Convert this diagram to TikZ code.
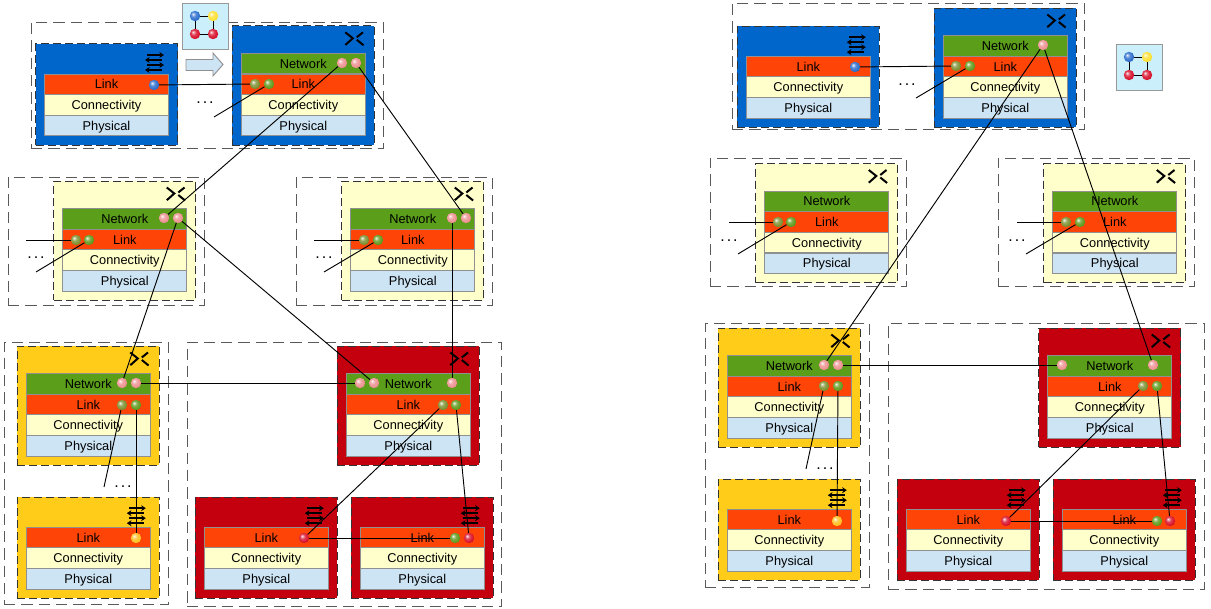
\documentclass[tikz,border=0pt]{standalone}
\usepackage{fontspec}
\setmainfont{Liberation Sans}
\usetikzlibrary{arrows.meta}
\definecolor{cblue}{HTML}{0066CC}
\definecolor{cpale}{HTML}{FFFFCC}
\definecolor{cyel}{HTML}{FFCC1A}
\definecolor{cred}{HTML}{C4000E}
\definecolor{cnet}{HTML}{5A9E1A}
\definecolor{clink}{HTML}{FF4408}
\definecolor{cphy}{HTML}{CDE4F4}
\definecolor{cedge}{HTML}{909090}
\definecolor{bpink}{HTML}{EE9090}
\definecolor{bgreen}{HTML}{5F9A1C}
\definecolor{bolive}{HTML}{7C9030}
\definecolor{bblue}{HTML}{2A6CCC}
\definecolor{bred}{HTML}{D8102A}
\definecolor{bor}{HTML}{FFC020}
\definecolor{byel}{HTML}{FFE030}
\colorlet{softc}{red}
\pgfdeclareradialshading[softc]{softball}{\pgfqpoint{-10bp}{10bp}}{color(0bp)=(softc!10!white); color(12bp)=(softc!80!white); color(25bp)=(softc); color(38bp)=(softc!75!black); color(50bp)=(softc!60!black)}
\tikzset{
  every node/.style={outer sep=0pt},
  group/.style={draw=black!65,dash pattern=on 8.5pt off 4.5pt,line width=0.7pt},
  block/.style={draw=black!80,dash pattern=on 6pt off 3pt,line width=0.75pt,fill=#1},
  layer/.style={draw=cedge,line width=0.7pt,fill=#1,minimum width=93pt,minimum height=15.4pt,inner sep=0pt,font=\fontsize{9.6}{10}\selectfont,text height=9pt,text depth=2pt,text=black,anchor=north west},
  ball/.style={circle,minimum size=7.8pt,inner sep=0pt,/utils/exec={\colorlet{softc}{#1}},shading=softball},
  wire/.style={draw=black,line width=0.7pt},
  iconline/.style={draw=black,line width=1.5pt},
  swline/.style={draw=black,line width=1.2pt},
  dots/.style={font=\fontsize{12}{12}\selectfont,inner sep=0pt},
}
% router block: name, left, top, colour (block 142x119)
\newcommand{\routerblk}[4]{%
  \node[block=#4,draw,minimum width=106.5pt,minimum height=89.3pt,inner sep=0pt,anchor=north west] (#1) at (#2,#3) {};
  \node[layer=cnet] (#1net) at ({#2+9},{#3+27.3}) {Network};
  \node[layer=clink] (#1link) at ({#2+9},{#3+48}) {Link};
  \node[layer=cpale] (#1con) at ({#2+9},{#3+68.7}) {Connectivity};
  \node[layer=cphy] (#1phy) at ({#2+9},{#3+89.3}) {Physical};
  \begin{scope}[shift={({#2+122},{#3+12.3})}]
    \draw[iconline] (-9,-6) -- (-1.5,0) -- (-9,6.7) (8.7,-6) -- (2.5,-1) (2.5,1.5) -- (9.3,7);
  \end{scope}}
% switch block (block 142x101)
\newcommand{\switchblk}[4]{%
  \node[block=#4,draw,minimum width=106.5pt,minimum height=75.8pt,inner sep=0pt,anchor=north west] (#1) at (#2,#3) {};
  \node[layer=clink] (#1link) at ({#2+9},{#3+30}) {Link};
  \node[layer=cpale] (#1con) at ({#2+9},{#3+50.7}) {Connectivity};
  \node[layer=cphy] (#1phy) at ({#2+9},{#3+71.3}) {Physical};
  \begin{scope}[shift={({#2+119.5},{#3+18.5})}]
    \draw[swline,-{Stealth[length=3.5pt,width=4.5pt]}] (-8,-7.5) -- (9,-7.5);
    \draw[swline,{Stealth[length=3.5pt,width=4.5pt]}-] (-10,-2.5) -- (7,-2.5);
    \draw[swline,-{Stealth[length=3.5pt,width=4.5pt]}] (-8,2.5) -- (9,2.5);
    \draw[swline,{Stealth[length=3.5pt,width=4.5pt]}-] (-10,7.5) -- (7,7.5);
  \end{scope}}
% topology icon
\newcommand{\topoicon}[3]{%
  \node[draw=black!40,line width=0.7pt,fill=cyan!20,minimum size=34.5pt,inner sep=0pt,anchor=north west] (#1) at (#2,#3) {};
  \coordinate (#1pa) at ({#2+13},{#3+13});
  \coordinate (#1pb) at ({#2+31},{#3+13});
  \coordinate (#1pc) at ({#2+13},{#3+31});
  \coordinate (#1pd) at ({#2+31},{#3+31});
  \draw[wire] (#1pa) -- (#1pb) -- (#1pd) -- (#1pc) -- (#1pa);
  \node[ball=bblue] (#1a) at (#1pa) {};
  \node[ball=byel] (#1b) at (#1pb) {};
  \node[ball=bred] (#1c) at (#1pc) {};
  \node[ball=bred] (#1d) at (#1pd) {};}
\begin{document}
\begin{tikzpicture}[x=0.75pt,y=-0.75pt]
\useasboundingbox (0,0) rectangle (1211,609);
% groups, left
\node[group,draw,minimum width=264pt,minimum height=95.2pt,anchor=north west,inner sep=0pt] (g1) at (31,22) {};
\node[group,draw,minimum width=147pt,minimum height=96pt,anchor=north west,inner sep=0pt] (g2) at (8,177) {};
\node[group,draw,minimum width=147pt,minimum height=96pt,anchor=north west,inner sep=0pt] (g3) at (296,177) {};
\node[group,draw,minimum width=123pt,minimum height=197.2pt,anchor=north west,inner sep=0pt] (g4) at (4,342) {};
\node[group,draw,minimum width=236.2pt,minimum height=198.7pt,anchor=north west,inner sep=0pt] (g5) at (187,342) {};
% groups, right
\node[group,draw,minimum width=264pt,minimum height=95.2pt,anchor=north west,inner sep=0pt] (h1) at (732,3) {};
\node[group,draw,minimum width=147pt,minimum height=96.7pt,anchor=north west,inner sep=0pt] (h2) at (710,158) {};
\node[group,draw,minimum width=147pt,minimum height=96.7pt,anchor=north west,inner sep=0pt] (h3) at (998,158) {};
\node[group,draw,minimum width=123pt,minimum height=198pt,anchor=north west,inner sep=0pt] (h4) at (705,323) {};
\node[group,draw,minimum width=237pt,minimum height=199.5pt,anchor=north west,inner sep=0pt] (h5) at (888,323) {};
% blocks, left
\switchblk{a}{35.5}{44}{cblue}
\routerblk{b}{232.3}{26}{cblue}
\routerblk{c}{53.8}{181.2}{cpale}
\routerblk{d}{341.8}{181.2}{cpale}
\routerblk{e}{17.3}{346.2}{cyel}
\switchblk{f}{17.3}{497.2}{cyel}
\routerblk{g}{337.3}{346.2}{cred}
\switchblk{h}{195.3}{497.2}{cred}
\switchblk{i}{351.3}{497.2}{cred}
% blocks, right
\switchblk{A}{737.3}{26.2}{cblue}
\routerblk{B}{934.3}{8.2}{cblue}
\routerblk{C}{755.8}{163.7}{cpale}
\routerblk{D}{1043.8}{163.7}{cpale}
\routerblk{E}{718.3}{328.2}{cyel}
\switchblk{F}{718.3}{479.2}{cyel}
\routerblk{G}{1038.8}{328.2}{cred}
\switchblk{H}{897.3}{479.2}{cred}
\switchblk{I}{1053.3}{479.2}{cred}
% icons and arrow
\topoicon{ti}{182}{3}
\topoicon{tj}{1116}{44}
\draw[draw=cedge,fill=cphy,line width=0.7pt] (186,59.5) -- (213,59.5) -- (213,53) -- (223,64.5) -- (213,76) -- (213,70.5) -- (186,70.5) -- cycle;
% balls
\foreach \n/\x/\y/\c in {a1/154/85/bblue,b1/342/63/bpink,b2/356/63/bpink,b3/255/84/bolive,b4/269/84/bgreen,
 c1/164/218/bpink,c2/178/218/bpink,c3/76/240/bolive,c4/89/240/bgreen,
 d1/452/218/bpink,d2/466/218/bpink,d3/364/240/bolive,d4/378/240/bgreen,
 e1/122/383/bpink,e2/136/383/bpink,e3/122/405/bolive,e4/136/405/bgreen,
 f1/136/538/bor,
 g1b/360/383/bpink,g2b/374/383/bpink,g3b/452/383/bpink,g4b/443/405/bolive,g5b/456/405/bgreen,
 h1b/304/538/bred,i1b/455/538/bgreen,i2b/469/538/bred,
 A1/855/67/bblue,B1/1043/45/bpink,B3/956/66/bolive,B4/970/66/bgreen,
 C3/778/222/bolive,C4/791/222/bgreen,D3/1066/222/bolive,D4/1080/222/bgreen,
 E1/824/365/bpink,E2/838/365/bpink,E3/824/386/bolive,E4/838/386/bgreen,
 F1/837/521/bor,
 G1b/1062/365/bpink,G2b/1153/365/bpink,G3b/1143/386/bolive,G4b/1157/386/bgreen,
 H1b/1006/521/bred,I1b/1157/521/bgreen,I2b/1170/521/bred}
 {\node[ball=\c] (\n) at (\x,\y) {};}
% free ends
\foreach \n/\x/\y in {p1/214/117,p2/26/240,p3/36/272,p4/314/240,p5/324/272,p6/104/487,
 q1/916/98,q2/729/222,q3/738/254,q4/1017/222,q5/1026/254,q6/806/469}
 {\coordinate (\n) at (\x,\y);}
% wires, left
\draw[wire] (a1) -- (b3);
\draw[wire] (p1) -- (b4);
\draw[wire] (b1) -- (c1);
\draw[wire] (b2) -- (d2);
\draw[wire] (p2) -- (c3);
\draw[wire] (p3) -- (c4);
\draw[wire] (p4) -- (d3);
\draw[wire] (p5) -- (d4);
\draw[wire] (c2) -- (e1);
\draw[wire] (c2) -- (g2b);
\draw[wire] (d1) -- (g3b);
\draw[wire] (e2) -- (g1b);
\draw[wire] (e3) -- (p6);
\draw[wire] (e4) -- (f1);
\draw[wire] (g4b) -- (h1b);
\draw[wire] (g5b) -- (i2b);
\draw[wire] (h1b) -- (i1b);
% wires, right
\draw[wire] (A1) -- (B3);
\draw[wire] (q1) -- (B4);
\draw[wire] (q2) -- (C3);
\draw[wire] (q3) -- (C4);
\draw[wire] (q4) -- (D3);
\draw[wire] (q5) -- (D4);
\draw[wire] (B1) -- (E1);
\draw[wire] (B1) -- (G2b);
\draw[wire] (E2) -- (G1b);
\draw[wire] (E3) -- (q6);
\draw[wire] (E4) -- (F1);
\draw[wire] (G3b) -- (H1b);
\draw[wire] (G4b) -- (I2b);
\draw[wire] (H1b) -- (I1b);
% dots
\foreach \n/\x/\y in {t1/205/103,t2/36/258,t3/324/258,t4/123/487,t5/907/85,t6/729/241,t7/1017/241,t8/825/469}
 {\node[dots] (\n) at (\x,\y) {.\kern1.5pt.\kern1.5pt.};}
\end{tikzpicture}
\end{document}
